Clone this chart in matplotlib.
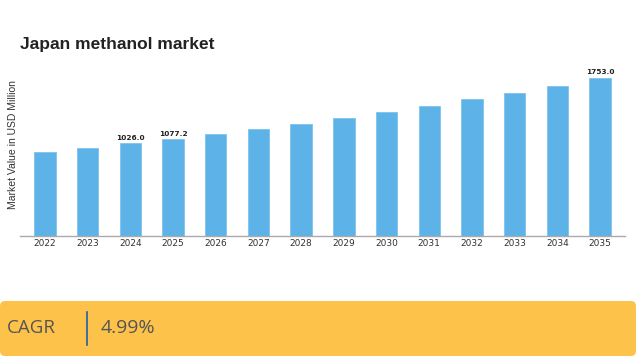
import matplotlib
matplotlib.use("Agg")
import matplotlib.pyplot as plt
from matplotlib.patches import FancyBboxPatch
from matplotlib.lines import Line2D

years = ["2022", "2023", "2024", "2025", "2026", "2027", "2028",
         "2029", "2030", "2031", "2032", "2033", "2034", "2035"]
values = [932, 977, 1026.0, 1077.2, 1131, 1187, 1246,
          1308, 1373, 1441, 1513, 1588, 1667, 1753.0]
labelled = {"2024": "1026.0", "2025": "1077.2", "2035": "1753.0"}
cagr_text = "4.99%"

fig = plt.figure(figsize=(6.37, 3.6), dpi=100)
fig.patch.set_facecolor("white")

ax = fig.add_axes([20 / 637, 1 - 236 / 360, 605 / 637, 167 / 360])
x = list(range(len(years)))
ax.bar(x, values, width=0.5, color="#5DB3E7", edgecolor="#7CC3EE", linewidth=0.6)
ax.set_xlim(-0.585, 13.585)
ax.set_ylim(0, 1850)
ax.set_xticks(x)
ax.set_xticklabels(years, fontsize=6.5, color="#333333")
ax.set_yticks([])
ax.tick_params(axis="x", length=0, pad=2)
for s in ["top", "right", "left"]:
    ax.spines[s].set_visible(False)
ax.spines["bottom"].set_color("#aaaaaa")
ax.spines["bottom"].set_linewidth(1.0)

for xi, yr, v in zip(x, years, values):
    if yr in labelled:
        ax.text(xi, v + 25, labelled[yr], ha="center", va="bottom",
                fontsize=5.3, fontweight="bold", color="#222222")

fig.text(13 / 637, 1 - 145 / 360, "Market Value in USD Million", rotation=90,
         ha="center", va="center", fontsize=7.5, color="#333333",
         family="Liberation Sans")
fig.text(20 / 637, 1 - 45 / 360, "Japan methanol market", ha="left", va="center",
         fontsize=12.5, fontweight="bold", color="#222222", family="Liberation Sans")

# CAGR banner
banner = FancyBboxPatch((0, 4 / 360), 636 / 637, 55 / 360,
                        boxstyle="round,pad=0,rounding_size=0.008",
                        transform=fig.transFigure, facecolor="#FDC24A",
                        edgecolor="none", mutation_aspect=637 / 360)
fig.patches.append(banner)
fig.text(7 / 637, 1 - 328 / 360, "CAGR", ha="left", va="center",
         fontsize=13.5, color="#555555", family="Open Sans")
fig.lines.append(Line2D([87 / 637, 87 / 637], [1 - 312 / 360, 1 - 345 / 360],
                        transform=fig.transFigure, color="#1F5FA8", linewidth=1.2))
fig.text(101 / 637, 1 - 328 / 360, cagr_text, ha="left", va="center",
         fontsize=14, color="#555555", family="Open Sans")

fig.savefig("out.png", dpi=100)
